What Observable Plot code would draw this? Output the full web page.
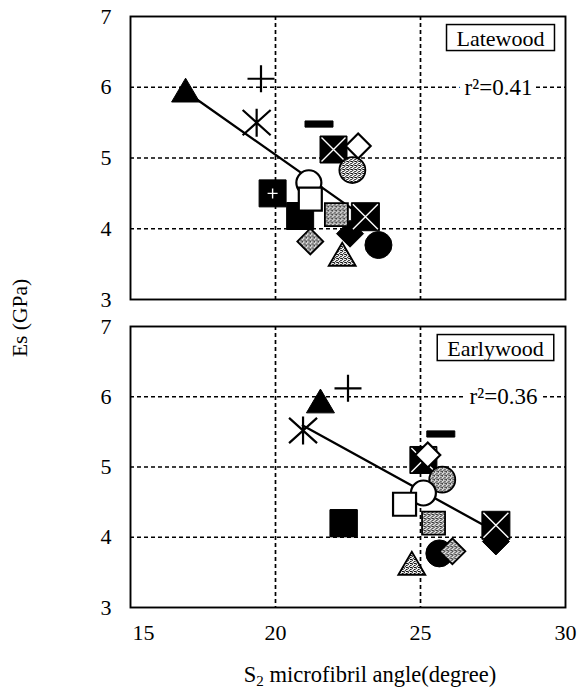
<!DOCTYPE html>
<html><head><meta charset="utf-8">
<script src="https://cdn.jsdelivr.net/npm/d3@7"></script>
<script src="https://cdn.jsdelivr.net/npm/@observablehq/plot@0.6"></script>
<style>
body{margin:0;background:#fff;}
#chart{position:relative;width:579px;height:691px;font-family:"Liberation Serif","Times New Roman",serif;color:#000;overflow:hidden;background:#fff;}
#toppanel{position:absolute;left:0;top:0;}
#bottompanel{position:absolute;left:0;top:310px;}
#ylabel{position:absolute;left:21px;top:318px;transform:translate(-50%,-50%) rotate(-90deg);white-space:nowrap;font-size:21.5px;line-height:1;}
#xlabel{position:absolute;left:370px;top:664px;transform:translateX(-50%);white-space:nowrap;font-size:22.5px;line-height:22px;}
#xlabel sub{font-size:15px;vertical-align:-4px;line-height:0;}
</style></head>
<body>
<div id="chart">
<svg width="0" height="0" style="position:absolute"><defs>
<pattern id="stipple" width="4" height="4" patternUnits="userSpaceOnUse">
<rect width="4" height="4" fill="#fff"/>
<rect x="0" y="0" width="1" height="1" fill="#000"/>
<rect x="2" y="1" width="1" height="1" fill="#000"/>
<rect x="3" y="1" width="1" height="1" fill="#444"/>
<rect x="1" y="2" width="1" height="1" fill="#000"/>
<rect x="0" y="3" width="1" height="1" fill="#555"/>
<rect x="3" y="3" width="1" height="1" fill="#000"/>
<rect x="2" y="3" width="1" height="1" fill="#000"/>
</pattern></defs></svg>
<div id="bottompanel"></div>
<div id="toppanel"></div>
<div id="ylabel">Es (GPa)</div>
<div id="xlabel">S<sub>2</sub> microfibril angle(degree)</div>
</div>
<script>
// ---- data ----
const species = ["A","B","C","D","E","F","G","H","I","J","K","L","M","N","O","P","Q"];
const latewoodMFA = [16.9, 19.5, 19.35, 21.5, 22.0, 22.85, 22.65, 21.15, 19.9, 21.2, 20.85, 22.1, 23.1, 22.57, 23.55, 21.2, 22.3];
const latewoodEs  = [5.95, 6.12, 5.5, 5.48, 5.12, 5.17, 4.83, 4.65, 4.5, 4.42, 4.18, 4.2, 4.17, 3.93, 3.77, 3.82, 3.63];
const earlywoodMFA = [21.55, 22.5, 20.95, 25.7, 25.1, 25.25, 25.75, 25.1, 22.35, 24.45, 22.35, 25.45, 27.6, 27.6, 25.65, 26.1, 24.7];
const earlywoodEs  = [5.93, 6.12, 5.52, 5.47, 5.1, 5.17, 4.82, 4.63, 4.2, 4.47, 4.2, 4.2, 4.17, 3.94, 3.77, 3.8, 3.62];
const latewoodFitMFA = [16.9, 23.1];
const latewoodFitEs = [5.94, 4.15];
const earlywoodFitMFA = [20.94, 27.5];
const earlywoodFitEs = [5.59, 4.10];
const xTicks = [15, 20, 25, 30];
const yTicks = [3, 4, 5, 6, 7];
const xGrid = [20, 25];
const yGrid = [4, 5, 6];
const panelNames = ["Latewood", "Earlywood"];
const r2Labels = ["r²=0.41", "r²=0.36"];

// ---- styles ----
function sym(f){return {draw(ctx,size){const r=Math.sqrt(size/Math.PI); f(ctx,r);}};}
const shapes = {
  square: sym((c,r)=>{c.rect(-r,-r,2*r,2*r);}),
  circle: sym((c,r)=>{c.moveTo(r,0);c.arc(0,0,r,0,2*Math.PI);}),
  triangle: sym((c,r)=>{c.moveTo(0,-0.9*r);c.lineTo(r,0.8*r);c.lineTo(-r,0.8*r);c.closePath();}),
  diamond: sym((c,r)=>{c.moveTo(0,-r);c.lineTo(r,0);c.lineTo(0,r);c.lineTo(-r,0);c.closePath();}),
  plus: sym((c,r)=>{c.moveTo(-r,0);c.lineTo(r,0);c.moveTo(0,-r);c.lineTo(0,r);}),
  times: sym((c,r)=>{c.moveTo(-r,-r);c.lineTo(r,r);c.moveTo(r,-r);c.lineTo(-r,r);}),
  asterisk: sym((c,r)=>{c.moveTo(0,-r);c.lineTo(0,r);c.moveTo(-r,-0.9*r);c.lineTo(r,0.9*r);c.moveTo(r,-0.9*r);c.lineTo(-r,0.9*r);}),
  dash: sym((c,r)=>{c.rect(-r,-0.22*r,2*r,0.44*r);})
};
const ST = "url(#stipple)";
const style = {
  A:{shape:"triangle", fill:"black", stroke:"black", sw:1, r:14},
  B:{shape:"plus", fill:"none", stroke:"black", sw:2.2, r:13.5},
  C:{shape:"asterisk", fill:"none", stroke:"black", sw:2.2, r:14},
  D:{shape:"dash", fill:"black", stroke:"black", sw:1, r:14},
  E:{shape:"square", fill:"black", stroke:"black", sw:1, r:13.5, over:"times", overR:12},
  F:{shape:"diamond", fill:"white", stroke:"black", sw:2.2, r:12.5},
  G:{shape:"circle", fill:ST, stroke:"black", sw:1.8, r:13},
  H:{shape:"circle", fill:"white", stroke:"black", sw:2.2, r:12.5},
  I:{shape:"square", fill:"black", stroke:"black", sw:1, r:13.5, over:"plus", overR:5},
  J:{shape:"square", fill:"white", stroke:"black", sw:2.2, r:11.5},
  K:{shape:"square", fill:"black", stroke:"black", sw:1, r:13.5},
  L:{shape:"square", fill:ST, stroke:"black", sw:1.8, r:11.5},
  M:{shape:"square", fill:"black", stroke:"black", sw:1, r:14, over:"times", overR:12.5},
  N:{shape:"diamond", fill:"black", stroke:"black", sw:1, r:13.5},
  O:{shape:"circle", fill:"black", stroke:"black", sw:1, r:13.5},
  P:{shape:"diamond", fill:ST, stroke:"black", sw:1.8, r:13},
  Q:{shape:"triangle", fill:ST, stroke:"black", sw:1.8, r:13.5}
};
const drawOrder = ["N","O","P","M","Q","E","F","G","H","I","K","J","L","A","B","C","D"];

function panel(mfa, es, fitX, fitY, name, r2, isBottom, boxDx, r2Dx) {
  const rows = species.map((s,i)=>({species:s, mfa:mfa[i], es:es[i]}));
  const fit = fitX.map((x,i)=>({mfa:x, es:fitY[i]}));
  const marks = [
    Plot.ruleX(xGrid, {stroke:"black", strokeWidth:1.7, strokeDasharray:"4,3"}),
    Plot.ruleY(yGrid, {stroke:"black", strokeWidth:1.7, strokeDasharray:"4,3"}),
    Plot.frame({stroke:"black", strokeWidth:1.9}),
    Plot.text([r2], {frameAnchor:"right", y:()=>6, text:d=>d, dx:r2Dx, textAnchor:"middle", fontSize:23, stroke:"white", strokeWidth:12, fill:"black", paintOrder:"stroke"}),
    Plot.text([name], {frameAnchor:"top-right", text:d=>d, dx:boxDx, dy:22, textAnchor:"middle", lineAnchor:"middle", fontSize:22, fill:"black"}),
    Plot.line(fit, {x:"mfa", y:"es", stroke:"black", strokeWidth:2.3})
  ];
  for (const s of drawOrder) {
    const st = style[s];
    const d = rows.filter(r=>r.species===s);
    marks.push(Plot.dot(d, {x:"mfa", y:"es", symbol:shapes[st.shape], r:st.r, fill:st.fill, stroke:st.stroke, strokeWidth:st.sw}));
    if (st.over) marks.push(Plot.dot(d, {x:"mfa", y:"es", symbol:shapes[st.over], r:st.overR, fill:"none", stroke:"white", strokeWidth:1.4}));
  }
  return Plot.plot({
    width:579,
    height: isBottom ? 342 : 322,
    marginLeft:130, marginRight:14, marginTop:16, marginBottom: isBottom ? 45 : 23,
    style:{fontFamily:"'Liberation Serif','Times New Roman',serif", fontSize:"22px", color:"black", background:"transparent", overflow:"visible"},
    x: isBottom ? {domain:[15,30], ticks:xTicks, tickFormat:"d", tickSize:0, tickPadding:17, label:null} : {domain:[15,30], axis:null},
    y: {domain:[3,7], ticks:yTicks, tickFormat:"d", tickSize:0, tickPadding:19, label:null},
    marks
  });
}

const topSvg = panel(latewoodMFA, latewoodEs, latewoodFitMFA, latewoodFitEs, panelNames[0], r2Labels[0], false, -65, -67);
const botSvg = panel(earlywoodMFA, earlywoodEs, earlywoodFitMFA, earlywoodFitEs, panelNames[1], r2Labels[1], true, -70, -62);
document.getElementById("toppanel").appendChild(topSvg);
document.getElementById("bottompanel").appendChild(botSvg);

// first x tick label sits inside the frame, as in the original
d3.select(botSvg).selectAll("text").filter(function(){return this.textContent === "15";}).attr("text-anchor","start").style("text-anchor","start").attr("dx", 2);

// boxes around panel names
for (const svg of [topSvg, botSvg]) {
  d3.select(svg).selectAll("text").filter(function(){return panelNames.includes(this.textContent);}).each(function(){
    const bb = this.getBBox();
    const rect = document.createElementNS("http://www.w3.org/2000/svg","rect");
    rect.setAttribute("x", bb.x - 10);
    rect.setAttribute("y", bb.y - 1);
    rect.setAttribute("width", bb.width + 20);
    rect.setAttribute("height", bb.height + 1);
    rect.setAttribute("fill", "white");
    rect.setAttribute("stroke", "black");
    rect.setAttribute("stroke-width", "1.5");
    const tr = this.getAttribute("transform");
    if (tr) rect.setAttribute("transform", tr);
    this.parentNode.insertBefore(rect, this);
  });
}
</script>
</body></html>
